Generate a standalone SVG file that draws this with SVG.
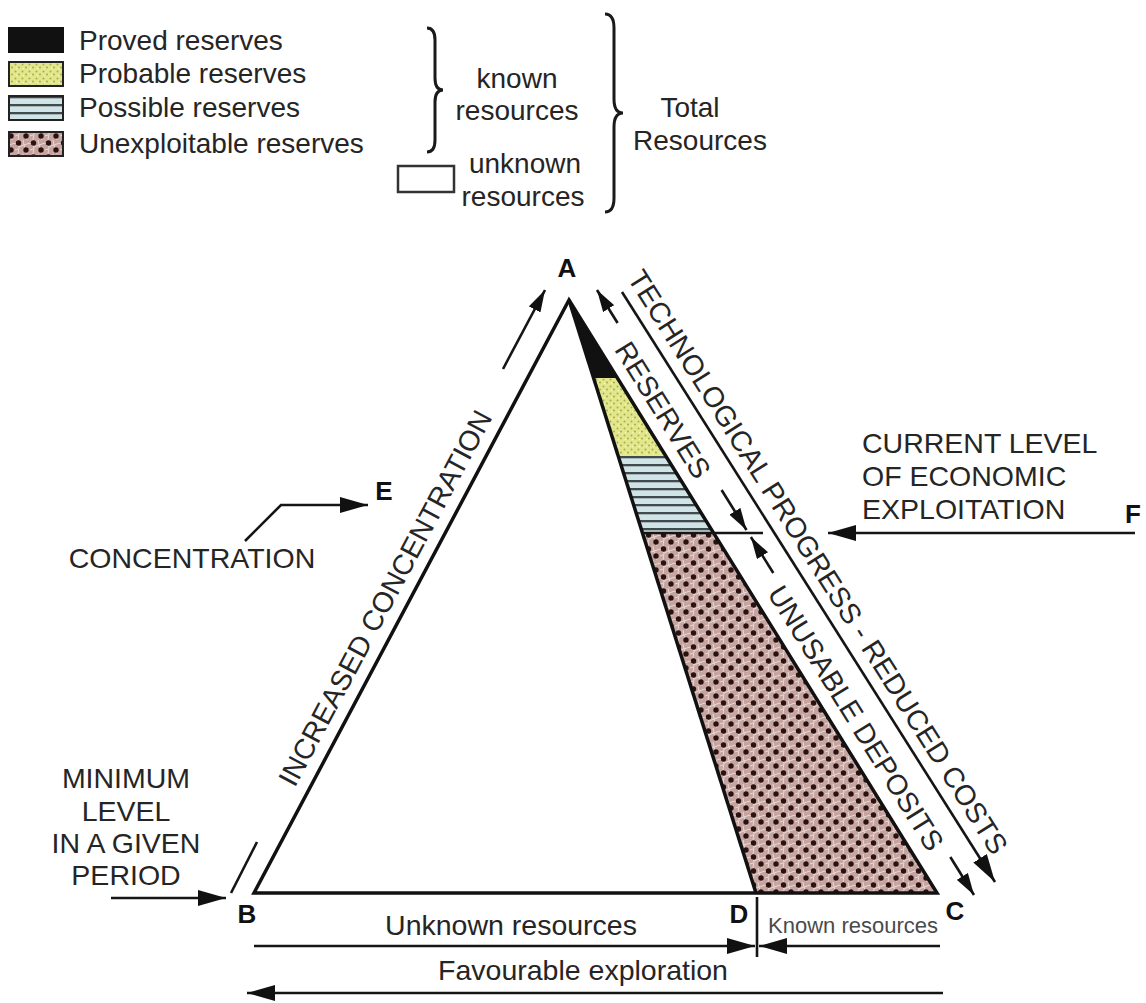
<svg xmlns="http://www.w3.org/2000/svg" width="1146" height="1003" viewBox="0 0 1146 1003">
<style>
text{font-family:"Liberation Sans",Arial,sans-serif;fill:#252525}
.t{font-size:28.5px}
.lg{font-size:28px}
.lb{font-size:26px;font-weight:bold;fill:#111}
.small{font-size:22px;fill:#4a4a4a}
.ln{stroke:#151515;stroke-width:2.6;fill:none}
.edge{stroke:#111;stroke-width:3.5;fill:none}
.arr{marker-end:url(#ah)}
.sm{marker-end:url(#ahs)}
.brace{stroke:#1a1a1a;stroke-width:3;fill:none}
</style>
<defs>
<marker id="ah" markerUnits="userSpaceOnUse" markerWidth="28" markerHeight="16" viewBox="0 0 28 16" refX="28" refY="8" orient="auto"><path d="M0,0 L28,8 L0,16 z" fill="#111"/></marker>
<marker id="ahs" markerUnits="userSpaceOnUse" markerWidth="22" markerHeight="13" viewBox="0 0 22 13" refX="22" refY="6.5" orient="auto"><path d="M0,0 L22,6.5 L0,13 z" fill="#111"/></marker>
<pattern id="stip" width="7" height="7" patternUnits="userSpaceOnUse">
<rect width="7" height="7" fill="#e2e88a"/>
<circle cx="1.5" cy="1.5" r="1" fill="#a9aa58"/>
<circle cx="5" cy="4.5" r="1" fill="#a9aa58"/>
<circle cx="2.5" cy="5.5" r="0.7" fill="#f6f8cc"/>
</pattern>
<pattern id="stripe" width="10" height="8" patternUnits="userSpaceOnUse">
<rect width="10" height="8" fill="#d0e3e7"/>
<rect y="0" width="10" height="2.3" fill="#414b4d"/>
</pattern>
<pattern id="rock" width="15" height="14" patternUnits="userSpaceOnUse">
<rect width="15" height="14" fill="#c6a4a0"/>
<path d="M0,3 L4,7 L9,5 L15,3 M4,7 L3,14 M9,5 L12,14 M0,10 L3,9 M9,5 L8,0" stroke="#ecdeda" stroke-width="0.9" fill="none"/>
<circle cx="3.5" cy="3" r="2.7" fill="#2a1212"/>
<circle cx="11" cy="10" r="2.7" fill="#2a1212"/>
</pattern>
</defs>
<rect width="1146" height="1003" fill="#fff"/>

<g id="legend">
<rect x="9" y="28" width="54" height="24" fill="#111" stroke="#111" stroke-width="2"/>
<rect x="9" y="62" width="54" height="24" fill="url(#stip)" stroke="#222" stroke-width="2"/>
<rect x="9" y="96" width="54" height="24" fill="url(#stripe)" stroke="#222" stroke-width="2"/>
<rect x="9" y="132" width="54" height="24" fill="url(#rock)" stroke="#222" stroke-width="2"/>
<text class="lg" x="79" y="50">Proved reserves</text>
<text class="lg" x="79" y="83">Probable reserves</text>
<text class="lg" x="79" y="117">Possible reserves</text>
<text class="lg" x="79" y="153">Unexploitable reserves</text>
<path class="brace" d="M427,28 Q435,28 435,40 L435,78 Q435,90 443,90 Q435,90 435,102 L435,140 Q435,152 427,152"/>
<text class="lg" x="517" y="88" text-anchor="middle">known</text>
<text class="lg" x="517" y="120" text-anchor="middle">resources</text>
<rect x="398" y="166" width="56" height="26" fill="#fff" stroke="#333" stroke-width="2.5"/>
<text class="lg" x="525" y="173" text-anchor="middle">unknown</text>
<text class="lg" x="523" y="206" text-anchor="middle">resources</text>
<path class="brace" d="M605,14 Q614,14 614,28 L614,99 Q614,113 623,113 Q614,113 614,127 L614,198 Q614,212 605,212"/>
<text class="lg" x="690" y="117" text-anchor="middle">Total</text>
<text class="lg" x="700" y="150" text-anchor="middle">Resources</text>
</g>

<g id="triangle">
<polygon points="569,300 617.4,378 593.6,378" fill="#111"/>
<polygon points="593.6,378 617.4,378 665.2,455 617.9,455" fill="url(#stip)"/>
<polygon points="617.9,455 665.2,455 713.6,533 642.5,533" fill="url(#stripe)"/>
<polygon points="642.5,533 713.6,533 937,893 756,893" fill="url(#rock)"/>
<path class="edge" d="M569,300 L254,893 L937,893 Z"/>
<path class="edge" d="M569,300 L756,893"/>
</g>

<g id="label-A"><text class="lb" x="567" y="277" text-anchor="middle">A</text></g>
<g id="label-B"><text class="lb" x="247" y="923" text-anchor="middle">B</text></g>
<g id="label-C"><text class="lb" x="955" y="920" text-anchor="middle">C</text></g>
<g id="label-D"><text class="lb" x="739" y="923" text-anchor="middle">D</text></g>
<g id="label-E"><text class="lb" x="384" y="500" text-anchor="middle">E</text></g>
<g id="label-F"><text class="lb" x="1133" y="523" text-anchor="middle">F</text></g>

<g id="label-concentration"><text class="t" x="192" y="568" text-anchor="middle">CONCENTRATION</text></g>
<g id="label-minimum">
<text class="t" x="126" y="788" text-anchor="middle">MINIMUM</text>
<text class="t" x="126" y="821" text-anchor="middle">LEVEL</text>
<text class="t" x="126" y="853" text-anchor="middle">IN A GIVEN</text>
<text class="t" x="126" y="885" text-anchor="middle">PERIOD</text>
</g>
<g id="label-current">
<text class="t" x="862" y="453">CURRENT LEVEL</text>
<text class="t" x="862" y="486">OF ECONOMIC</text>
<text class="t" x="862" y="519">EXPLOITATION</text>
</g>
<g id="label-increased"><text class="t" transform="translate(385,598) rotate(-61.9)" text-anchor="middle" dominant-baseline="central">INCREASED CONCENTRATION</text></g>
<g id="label-reserves"><text class="t" transform="translate(663,410) rotate(58.1)" text-anchor="middle" dominant-baseline="central">RESERVES</text></g>
<g id="label-unusable"><text class="t" transform="translate(856,718) rotate(58.1)" text-anchor="middle" dominant-baseline="central">UNUSABLE DEPOSITS</text></g>
<g id="label-tech"><text class="t" transform="translate(818,562) rotate(57.7)" text-anchor="middle" dominant-baseline="central">TECHNOLOGICAL PROGRESS - REDUCED COSTS</text></g>
<g id="label-unknown"><text class="t" x="511" y="935" text-anchor="middle">Unknown resources</text></g>
<g id="label-known"><text class="small" x="853" y="933" text-anchor="middle">Known resources</text></g>
<g id="label-favourable"><text class="t" x="583" y="980" text-anchor="middle">Favourable exploration</text></g>

<g id="connectors">
<path class="ln sm" d="M503,369 L545,290"/>
<path class="ln" d="M231,893 L257,842"/>
<path class="ln arr" d="M111,898 L226,898"/>
<path class="ln arr" d="M245,541 L281,505 L368,505"/>
<path class="ln arr" d="M1135,533 L828,533"/>
<path class="ln" d="M642.5,533 L763,533"/>
<path class="ln sm" d="M617.6,323 L597,290"/>
<path class="ln sm" d="M721.6,490 L746.5,530"/>
<path class="ln sm" d="M773.3,573 L750.9,537"/>
<path class="ln sm" d="M950.3,857 L974,895"/>
<path class="ln arr" d="M622,292 L995,882"/>
<path class="ln" d="M757,897 L757,957"/>
<path class="ln arr" d="M254,946 L755,946"/>
<path class="ln arr" d="M940,946 L759,946"/>
<path class="ln arr" d="M943,993 L247,993"/>
</g>
</svg>
